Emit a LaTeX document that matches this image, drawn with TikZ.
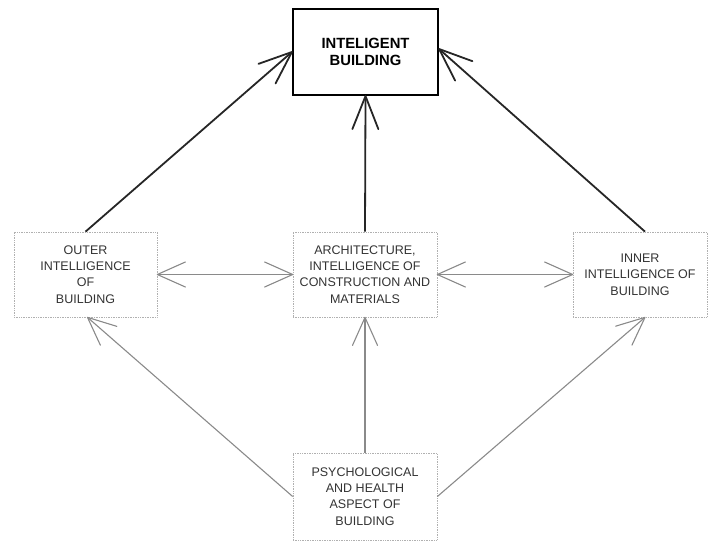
\documentclass[tikz,border=0pt]{standalone}
\usepackage{fontspec}
\setmainfont{Liberation Sans}
\usetikzlibrary{arrows.meta}
\pgfdeclarearrow{
  name = OpenV,
  parameters = {\the\pgfarrowlength,\the\pgfarrowwidth},
  setup code = {
    \pgfarrowssettipend{0pt}
    \pgfarrowssetlineend{-1pt}
    \pgfarrowshullpoint{0pt}{0pt}
    \pgfarrowsupperhullpoint{-\pgfarrowlength}{.5\pgfarrowwidth}
    \pgfarrowssavethe\pgfarrowlength
    \pgfarrowssavethe\pgfarrowwidth
  },
  drawing code = {
    \pgfsetdash{}{0pt}
    \pgfsetroundjoin
    \pgfsetroundcap
    \pgfpathmoveto{\pgfqpoint{-\pgfarrowlength}{.5\pgfarrowwidth}}
    \pgfpathlineto{\pgfpointorigin}
    \pgfpathlineto{\pgfqpoint{-\pgfarrowlength}{-.5\pgfarrowwidth}}
    \pgfusepathqstroke
  },
  defaults = {length=30pt, width=26pt}
}
\definecolor{boxline}{HTML}{B0B0B0}
\definecolor{grayarrow}{HTML}{8A8A8A}
\definecolor{txt}{HTML}{333333}
\begin{document}
\begin{tikzpicture}[x=1pt,y=-1pt,
  mainbox/.style={draw=black,line width=2.2pt,minimum width=145pt,minimum height=86pt,align=center,font=\fontsize{14.8}{17.5}\selectfont\bfseries,text=black,inner sep=0pt},
  subbox/.style={draw=boxline,line width=0.7pt,densely dotted,minimum height=85pt,align=center,font=\fontsize{12.5}{16.3}\selectfont,text=txt,inner sep=0pt},
  thickarrow/.style={draw=black!85,line width=1.8pt,-{OpenV[length=33pt,width=26pt]}},
  grayarr/.style={draw=grayarrow,line width=1.1pt,-{OpenV[length=28pt,width=25pt]}},
  graydbl/.style={draw=grayarrow,line width=1.1pt,{OpenV[length=28pt,width=25pt]}-{OpenV[length=28pt,width=25pt]}}
]
\useasboundingbox (0,0) rectangle (708,541);
\node[mainbox] (top) at (365.5,52) {INTELIGENT\\BUILDING};
\node[subbox,minimum width=143pt] (outer) at (85.5,274.5) {OUTER\\INTELLIGENCE\\OF\\BUILDING};
\node[subbox,minimum width=144pt] (mid) at (365,274.5) {ARCHITECTURE,\\INTELLIGENCE OF\\CONSTRUCTION AND\\MATERIALS};
\node[subbox,minimum width=134pt] (inner) at (640,274.5) {INNER\\INTELLIGENCE OF\\BUILDING};
\node[subbox,minimum width=144pt,minimum height=87pt] (bottom) at (365,496.5) {PSYCHOLOGICAL\\AND HEALTH\\ASPECT OF\\BUILDING};
% thick arrows to top
\draw[thickarrow] (outer.north) -- (top.west);
\draw[thickarrow] (mid.north) -- (top.south);
\draw[thickarrow] ([xshift=5pt]inner.north) -- ([yshift=3pt]top.east);
% double arrows
\draw[graydbl] (outer.east) -- (mid.west);
\draw[graydbl] (mid.east) -- (inner.west);
% from bottom
\draw[grayarr] (bottom.west) -- ([xshift=2pt]outer.south);
\draw[grayarr] (bottom.north) -- (mid.south);
\draw[grayarr] (bottom.east) -- ([xshift=5pt]inner.south);
\end{tikzpicture}
\end{document}
